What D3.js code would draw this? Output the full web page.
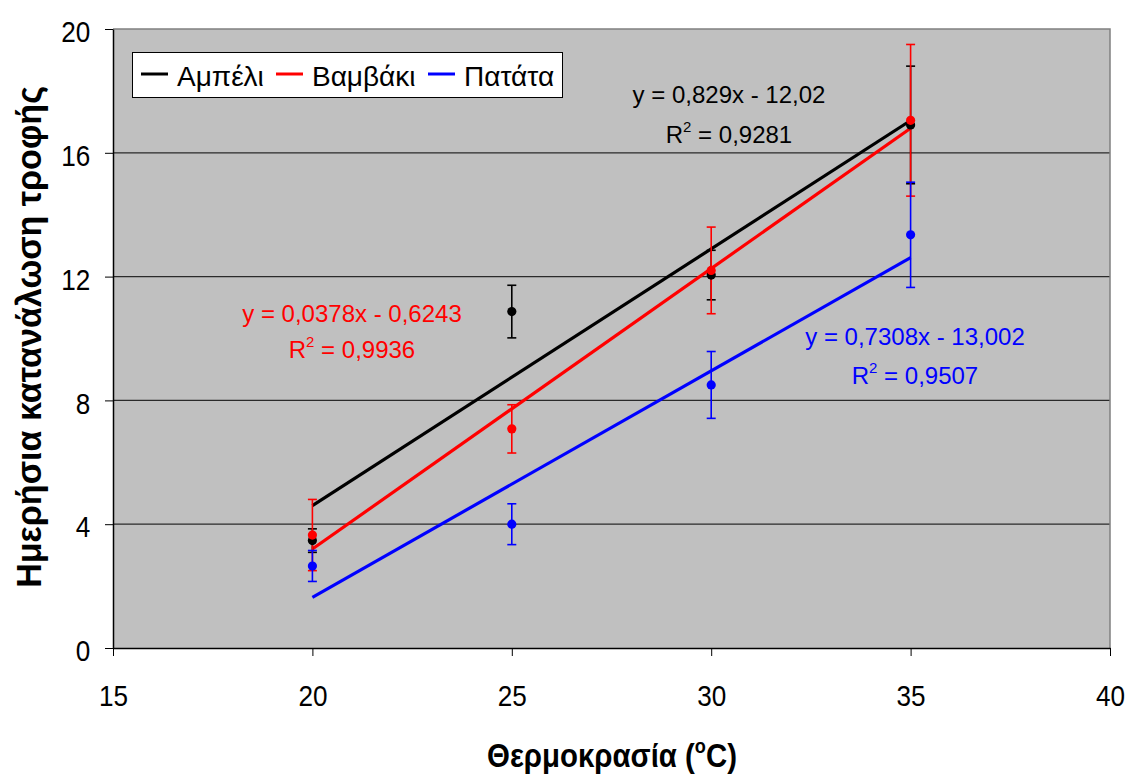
<!DOCTYPE html>
<html>
<head>
<meta charset="utf-8">
<script src="https://cdn.jsdelivr.net/npm/d3@7"></script>
<style>
  html, body { margin: 0; padding: 0; background: #ffffff; }
  svg { display: block; font-family: "Liberation Sans", Arial, sans-serif; }
</style>
</head>
<body>
<svg id="chart" width="1127" height="776"></svg>
<script>
// Temperatures (°C) and daily food consumption per host plant
const temperatures = [20, 25, 30, 35];
const ampeli       = [3.47, 10.87, 12.05, 16.90];
const ampeliErr    = [0.38, 0.85, 0.80, 1.90];
const vamvaki      = [3.65, 7.08, 12.20, 17.05];
const vamvakiErr   = [1.15, 0.78, 1.40, 2.45];
const patata       = [2.65, 4.00, 8.50, 13.35];
const patataErr    = [0.50, 0.66, 1.08, 1.70];

const seriesNames  = ["Αμπέλι", "Βαμβάκι", "Πατάτα"];
const seriesColors = ["#000000", "#ff0000", "#0000ff"];

// Trendline annotations (equation, R²)
const equations = ["y = 0,829x - 12,02", "y = 0,0378x - 0,6243", "y = 0,7308x - 13,002"];
const rSquared  = ["0,9281", "0,9936", "0,9507"];

const xTicks = [15, 20, 25, 30, 35, 40];
const yTicks = [0, 4, 8, 12, 16, 20];

const series = [
  { name: seriesNames[0], color: seriesColors[0], values: ampeli,  errors: ampeliErr },
  { name: seriesNames[1], color: seriesColors[1], values: vamvaki, errors: vamvakiErr },
  { name: seriesNames[2], color: seriesColors[2], values: patata,  errors: patataErr }
];

const svg = d3.select("#chart");
const plot = { left: 113, right: 1110, top: 29, bottom: 648 };

const x = d3.scaleLinear().domain([15, 40]).range([plot.left, plot.right]);
const y = d3.scaleLinear().domain([0, 20]).range([plot.bottom, plot.top]);

// Plot background
svg.append("rect")
  .attr("x", plot.left).attr("y", plot.top)
  .attr("width", plot.right - plot.left).attr("height", plot.bottom - plot.top)
  .attr("fill", "#c0c0c0");

// Horizontal gridlines
svg.append("g").selectAll("line")
  .data(yTicks.filter(d => d > 0 && d < 20))
  .join("line")
  .attr("x1", plot.left).attr("x2", plot.right)
  .attr("y1", d => y(d)).attr("y2", d => y(d))
  .attr("stroke", "#2a2a2a").attr("stroke-width", 1.2);

// Top and right frame
svg.append("path")
  .attr("d", `M${plot.left},${plot.top}H${plot.right}V${plot.bottom}`)
  .attr("fill", "none").attr("stroke", "#808080").attr("stroke-width", 1.5);

// Axes
const xAxis = svg.append("g")
  .attr("transform", `translate(0,${plot.bottom})`)
  .call(d3.axisBottom(x).tickValues(xTicks).tickSize(8).tickSizeOuter(0));
xAxis.select(".domain").attr("stroke", "#000").attr("stroke-width", 1.5);
xAxis.selectAll(".tick line").attr("stroke", "#000").attr("stroke-width", 1);
xAxis.selectAll(".tick text")
  .attr("y", 58).attr("dy", null)
  .attr("font-size", 30).attr("fill", "#000")
  .attr("font-family", "'Liberation Sans', Arial, sans-serif")
  .attr("transform", "scale(0.87,1)");

const yAxis = svg.append("g")
  .attr("transform", `translate(${plot.left},0)`)
  .call(d3.axisLeft(y).tickValues(yTicks).tickSize(8).tickSizeOuter(0));
yAxis.select(".domain").attr("stroke", "#000").attr("stroke-width", 1.5);
yAxis.selectAll(".tick line").attr("stroke", "#000").attr("stroke-width", 1);
yAxis.selectAll(".tick text")
  .attr("x", -26).attr("dy", "0.42em")
  .attr("font-size", 30).attr("fill", "#000")
  .attr("font-family", "'Liberation Sans', Arial, sans-serif")
  .attr("transform", "scale(0.87,1)");

// Least-squares trendlines over the measured temperature range
function fit(xs, ys) {
  const mx = d3.mean(xs), my = d3.mean(ys);
  const sxy = d3.sum(xs, (v, i) => (v - mx) * (ys[i] - my));
  const sxx = d3.sum(xs, v => (v - mx) * (v - mx));
  const slope = sxy / sxx;
  return { slope, intercept: my - slope * mx };
}
const xMin = d3.min(temperatures), xMax = d3.max(temperatures);
const line = d3.line().x(d => x(d[0])).y(d => y(d[1]));
series.forEach(s => {
  const f = fit(temperatures, s.values);
  svg.append("path")
    .datum([[xMin, f.intercept + f.slope * xMin], [xMax, f.intercept + f.slope * xMax]])
    .attr("d", line)
    .attr("fill", "none").attr("stroke", s.color).attr("stroke-width", 3.2);
});

// Error bars
const capHalf = 4.5;
series.forEach(s => {
  const g = svg.append("g").attr("stroke", s.color).attr("stroke-width", 1.6);
  temperatures.forEach((t, i) => {
    const cx = x(t), hi = y(s.values[i] + s.errors[i]), lo = y(s.values[i] - s.errors[i]);
    g.append("line").attr("x1", cx).attr("x2", cx).attr("y1", hi).attr("y2", lo);
    g.append("line").attr("x1", cx - capHalf).attr("x2", cx + capHalf).attr("y1", hi).attr("y2", hi);
    g.append("line").attr("x1", cx - capHalf).attr("x2", cx + capHalf).attr("y1", lo).attr("y2", lo);
  });
});

// Mean markers
series.forEach(s => {
  svg.append("g").selectAll("circle")
    .data(temperatures.map((t, i) => [t, s.values[i]]))
    .join("circle")
    .attr("cx", d => x(d[0])).attr("cy", d => y(d[1]))
    .attr("r", 4.6).attr("fill", s.color);
});

// Trendline equations
const labelPos = [
  { cx: 729, y1: 103, y2: 143 },
  { cx: 352, y1: 322, y2: 358 },
  { cx: 915, y1: 345, y2: 384 }
];
series.forEach((s, i) => {
  const p = labelPos[i];
  svg.append("text")
    .attr("x", p.cx).attr("y", p.y1)
    .attr("text-anchor", "middle").attr("font-size", 24).attr("fill", s.color)
    .text(equations[i]);
  const r = svg.append("text")
    .attr("x", p.cx).attr("y", p.y2)
    .attr("text-anchor", "middle").attr("font-size", 24).attr("fill", s.color);
  r.append("tspan").text("R");
  r.append("tspan").attr("font-size", 15).attr("dy", -11).text("2");
  r.append("tspan").attr("dy", 11).text(" = " + rSquared[i]);
});

// Legend
const legend = svg.append("g");
legend.append("rect")
  .attr("x", 132.5).attr("y", 52.5).attr("width", 430).attr("height", 45)
  .attr("fill", "#ffffff").attr("stroke", "#000").attr("stroke-width", 1);
const legendX = [141, 276, 428];
series.forEach((s, i) => {
  legend.append("line")
    .attr("x1", legendX[i]).attr("x2", legendX[i] + 27)
    .attr("y1", 74).attr("y2", 74)
    .attr("stroke", s.color).attr("stroke-width", 3);
  legend.append("text")
    .attr("x", legendX[i] + 36).attr("y", 86)
    .attr("font-size", 28).attr("fill", "#000")
    .text(s.name);
});

// Axis titles
const xTitleG = svg.append("g").attr("transform", "translate(612,767)");
const xTitle = xTitleG.append("text")
  .attr("text-anchor", "middle").attr("font-size", 34).attr("font-weight", "bold").attr("fill", "#000");
xTitle.append("tspan").text("Θερμοκρασία (");
xTitle.append("tspan").attr("font-size", 21).attr("dy", -14).text("o");
xTitle.append("tspan").attr("dy", 14).text("C)");
const xw = xTitle.node().getComputedTextLength();
xTitle.attr("transform", `scale(${250 / xw},1)`);

const yTitleG = svg.append("g").attr("transform", "translate(41,337) rotate(-90)");
const yTitle = yTitleG.append("text")
  .attr("text-anchor", "middle").attr("font-size", 36).attr("font-weight", "bold").attr("fill", "#000")
  .text("Ημερήσια κατανάλωση τροφής");
const yw = yTitle.node().getComputedTextLength();
yTitle.attr("transform", `scale(${502 / yw},1)`);
</script>
</body>
</html>
